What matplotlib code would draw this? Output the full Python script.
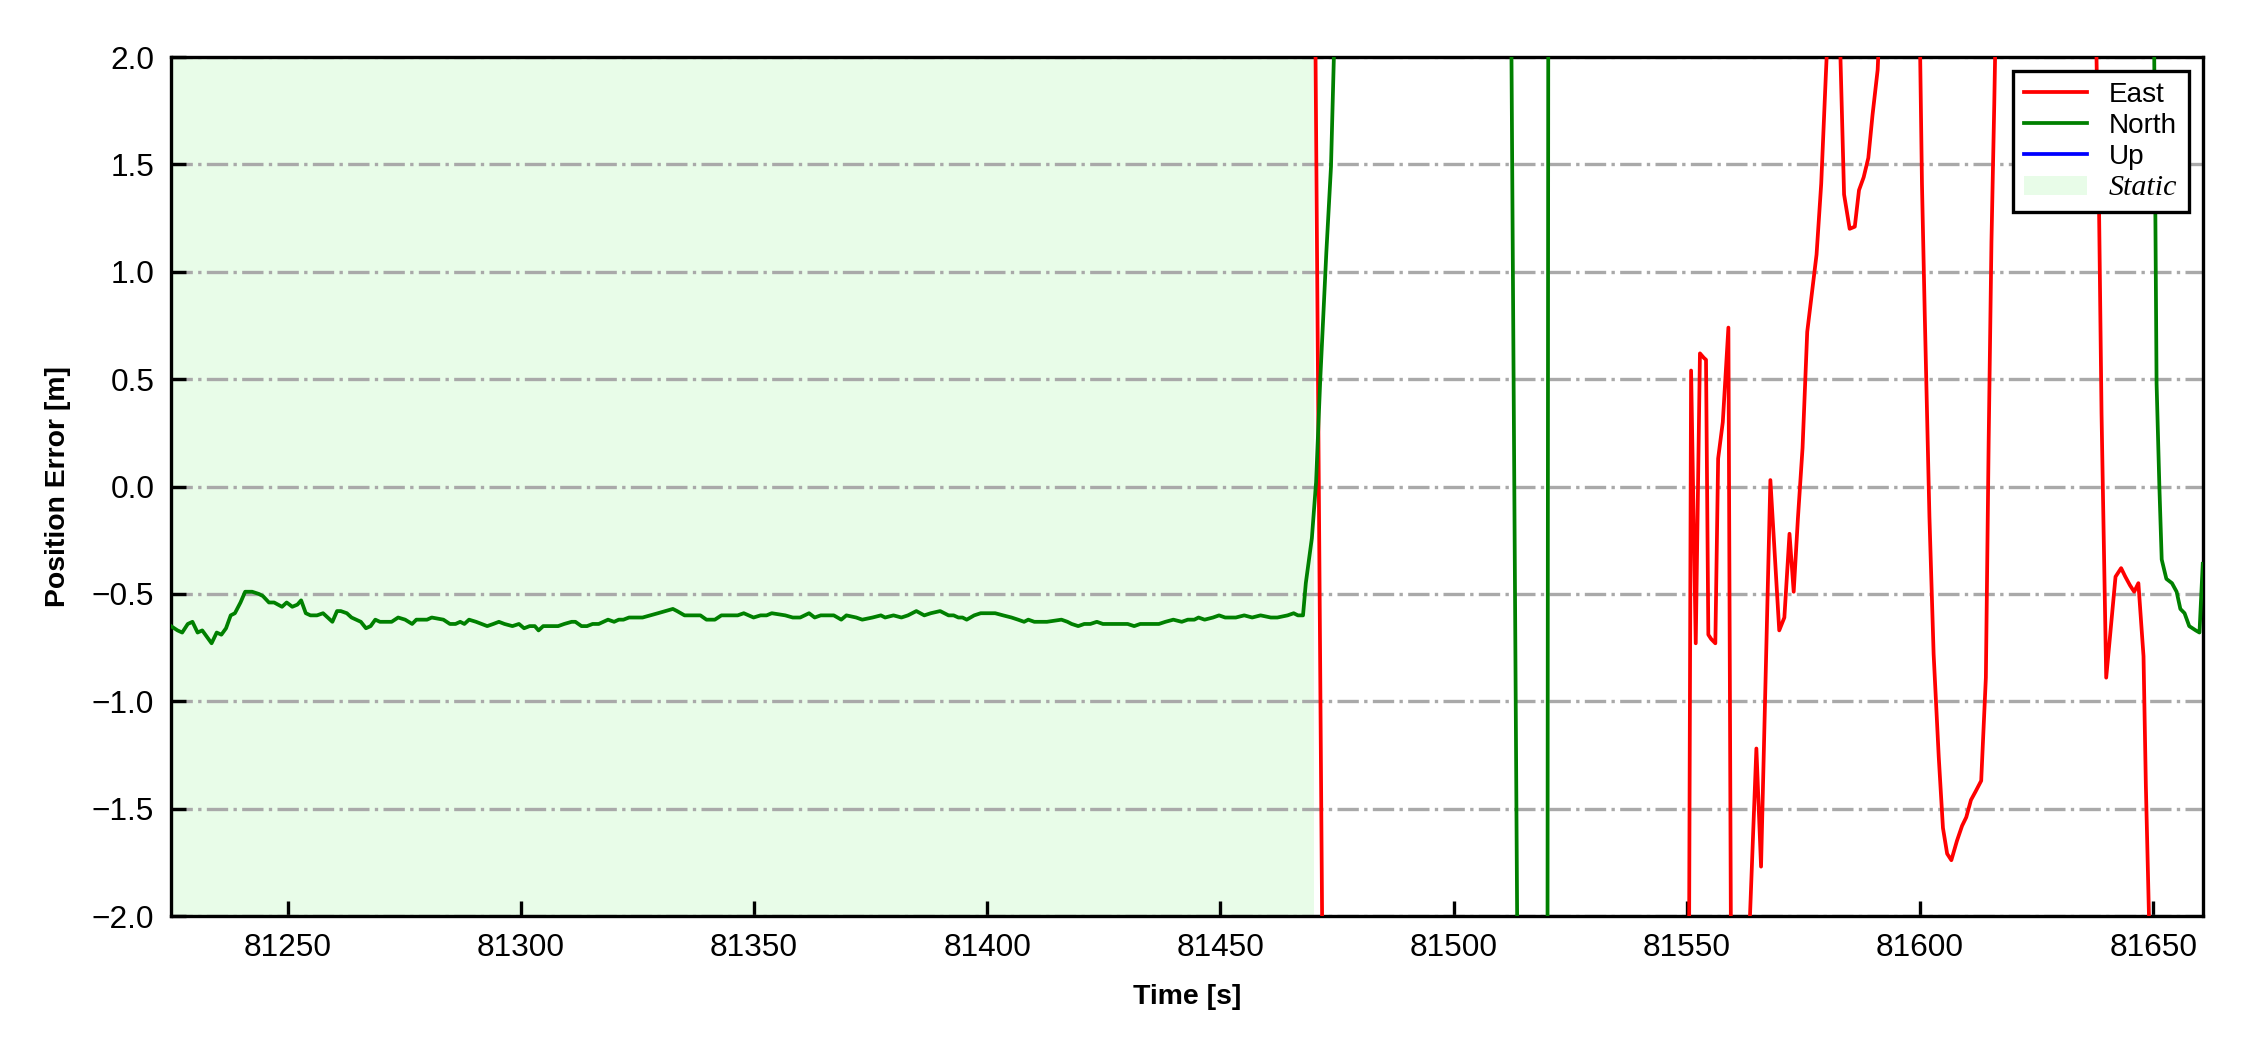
import matplotlib
matplotlib.use("Agg")
import matplotlib.pyplot as plt
import numpy as np

# ── Data ──────────────────────────────────────────────────────────────────────
# North error: static phase, jump-off, excursions and recovery near the end
north_t = [81225.0, 81226.4, 81227.4, 81228.6, 81229.6, 81230.7, 81231.7, 81232.7,
           81233.7, 81234.8, 81235.8, 81236.8, 81237.8, 81238.7, 81239.9, 81240.9,
           81242.4, 81243.8, 81244.7, 81246.0, 81247.1, 81248.8, 81249.8, 81251.0,
           81252.1, 81252.9, 81253.9, 81254.9, 81256.3, 81257.6, 81258.6, 81259.6,
           81260.6, 81261.4, 81262.7, 81263.7, 81264.7, 81265.7, 81266.8, 81267.8,
           81268.8, 81269.8, 81270.9, 81272.3, 81273.7, 81275.2, 81276.7, 81277.6,
           81278.9, 81279.9, 81280.9, 81283.4, 81284.8, 81286.0, 81287.0, 81287.9,
           81288.9, 81290.4, 81291.6, 81292.8, 81294.1, 81295.3, 81296.5, 81298.2,
           81299.6, 81300.7, 81301.9, 81303.0, 81303.8, 81304.8, 81306.4, 81308.0,
           81309.3, 81310.9, 81311.7, 81313.0, 81314.2, 81315.4, 81316.7, 81318.7,
           81320.0, 81321.0, 81322.0, 81323.2, 81326.1, 81329.4, 81332.6, 81333.5,
           81335.1, 81336.8, 81338.5, 81339.8, 81341.6, 81343.0, 81345.2, 81346.5,
           81347.8, 81349.9, 81351.4, 81352.7, 81353.8, 81356.7, 81358.3, 81359.9,
           81361.8, 81363.0, 81364.3, 81365.6, 81367.1, 81368.7, 81369.8, 81371.9,
           81373.2, 81375.4, 81377.2, 81378.1, 81379.9, 81381.6, 81383.0, 81384.8,
           81386.5, 81387.9, 81389.9, 81391.7, 81392.8, 81393.8, 81394.7, 81395.6,
           81397.2, 81398.6, 81400.3, 81401.7, 81403.4, 81405.2, 81406.6, 81407.9,
           81408.8, 81410.1, 81412.8, 81415.9, 81417.2, 81418.1, 81419.5, 81420.8,
           81422.1, 81423.5, 81424.8, 81427.5, 81429.2, 81430.1, 81431.5, 81432.8,
           81434.1, 81435.5, 81436.8, 81438.2, 81439.9, 81441.7, 81443.0, 81444.4,
           81445.3, 81446.6, 81448.4, 81449.7, 81451.0, 81453.3, 81455.1, 81456.8,
           81458.6, 81460.8, 81462.2, 81464.4, 81465.7, 81466.6, 81467.7, 81468.3,
           81469.6, 81470.5, 81471.4, 81472.7, 81473.7, 81474.8, 81480.0, 81490.0,
           81500.0, 81508.0, 81512.0, 81514.0, 81516.0, 81519.9, 81520.5, 81530.0,
           81560.0, 81600.0, 81630.0, 81649.2, 81650.0, 81650.7, 81651.3, 81651.8,
           81652.8, 81654.0, 81655.0, 81655.8, 81656.7, 81657.7, 81659.1, 81659.9,
           81660.6]
north_e = [-0.65, -0.67, -0.68, -0.64, -0.63, -0.68, -0.67, -0.70,
           -0.73, -0.68, -0.69, -0.66, -0.60, -0.59, -0.54, -0.49,
           -0.49, -0.50, -0.51, -0.54, -0.54, -0.56, -0.54, -0.56,
           -0.55, -0.53, -0.59, -0.60, -0.60, -0.59, -0.61, -0.63,
           -0.58, -0.58, -0.59, -0.61, -0.62, -0.63, -0.66, -0.65,
           -0.62, -0.63, -0.63, -0.63, -0.61, -0.62, -0.64, -0.62,
           -0.62, -0.62, -0.61, -0.62, -0.64, -0.64, -0.63, -0.64,
           -0.62, -0.63, -0.64, -0.65, -0.64, -0.63, -0.64, -0.65,
           -0.64, -0.66, -0.65, -0.65, -0.67, -0.65, -0.65, -0.65,
           -0.64, -0.63, -0.63, -0.65, -0.65, -0.64, -0.64, -0.62,
           -0.63, -0.62, -0.62, -0.61, -0.61, -0.59, -0.57, -0.58,
           -0.60, -0.60, -0.60, -0.62, -0.62, -0.60, -0.60, -0.60,
           -0.59, -0.61, -0.60, -0.60, -0.59, -0.60, -0.61, -0.61,
           -0.59, -0.61, -0.60, -0.60, -0.60, -0.62, -0.60, -0.61,
           -0.62, -0.61, -0.60, -0.61, -0.60, -0.61, -0.60, -0.58,
           -0.60, -0.59, -0.58, -0.60, -0.60, -0.61, -0.61, -0.62,
           -0.60, -0.59, -0.59, -0.59, -0.60, -0.61, -0.62, -0.63,
           -0.62, -0.63, -0.63, -0.62, -0.63, -0.64, -0.65, -0.64,
           -0.64, -0.63, -0.64, -0.64, -0.64, -0.64, -0.65, -0.64,
           -0.64, -0.64, -0.64, -0.63, -0.62, -0.63, -0.62, -0.62,
           -0.61, -0.62, -0.61, -0.60, -0.61, -0.61, -0.60, -0.61,
           -0.60, -0.61, -0.61, -0.60, -0.59, -0.60, -0.60, -0.45,
           -0.24, 0.02, 0.50, 1.09, 1.49, 2.40, 4.80, 6.50,
           5.20, 4.00, 3.30, -3.30, -6.00, -8.00, 8.00, 7.50,
           9.00, 6.00, 5.00, 3.50, 2.60, 0.48, 0.00, -0.34,
           -0.43, -0.45, -0.49, -0.57, -0.59, -0.65, -0.67, -0.68,
           -0.36]

# East error: off-scale during the static phase, then large swings
east_t = [81225.0, 81300.0, 81400.0, 81460.0, 81470.0, 81472.0, 81480.0, 81500.0,
          81530.0, 81550.0, 81550.9, 81551.9, 81552.8, 81553.6, 81554.1, 81554.6,
          81555.2, 81556.1, 81556.7, 81557.7, 81558.9, 81559.9, 81561.0, 81562.0,
          81563.0, 81564.9, 81565.9, 81567.9, 81569.8, 81570.9, 81572.0, 81572.9,
          81573.8, 81574.8, 81575.8, 81576.8, 81577.8, 81578.8, 81579.8, 81580.8,
          81581.8, 81582.8, 81583.7, 81584.9, 81586.0, 81586.9, 81587.9, 81588.9,
          81589.8, 81590.9, 81592.0, 81595.0, 81598.0, 81599.5, 81600.4, 81601.0,
          81602.0, 81602.9, 81604.0, 81604.9, 81605.8, 81606.7, 81607.9, 81609.0,
          81609.9, 81610.9, 81611.9, 81613.1, 81614.1, 81614.7, 81615.3, 81615.9,
          81616.9, 81625.0, 81632.0, 81637.0, 81638.3, 81638.9, 81639.9, 81641.9,
          81643.1, 81644.0, 81645.0, 81645.9, 81646.8, 81647.9, 81648.4, 81649.4,
          81655.0, 81660.6]
east_e = [5.50, 6.00, 4.50, 3.80, 3.10, -2.60, -4.00, -6.00,
          -5.00, -5.00, 0.54, -0.73, 0.62, 0.60, 0.59, -0.69,
          -0.71, -0.73, 0.13, 0.30, 0.74, -4.50, -4.00, -3.50,
          -2.30, -1.22, -1.77, 0.03, -0.67, -0.61, -0.22, -0.49,
          -0.15, 0.18, 0.72, 0.90, 1.08, 1.41, 1.92, 2.40,
          2.80, 2.10, 1.36, 1.20, 1.21, 1.38, 1.44, 1.53,
          1.73, 1.94, 2.50, 3.50, 3.20, 2.80, 1.41, 0.80,
          -0.14, -0.78, -1.26, -1.59, -1.71, -1.74, -1.65, -1.58,
          -1.54, -1.46, -1.42, -1.37, -0.89, 0.21, 1.14, 1.78,
          3.00, 4.50, 3.80, 3.00, 1.41, 0.34, -0.89, -0.42,
          -0.38, -0.42, -0.46, -0.49, -0.45, -0.79, -1.39, -2.30,
          -3.50, -4.20]

# Up error: never inside the plotted window
up_t = [81225.0, 81300.0, 81400.0, 81470.0, 81500.0, 81550.0, 81600.0, 81660.6]
up_e = [-3.2, -3.5, -3.4, -3.8, -5.0, -6.2, -4.8, -5.5]

static_start = 81225.0
static_end = 81470.0

# ── Plotting ──────────────────────────────────────────────────────────────────
plt.rcParams['font.family'] = ['Liberation Sans', 'DejaVu Sans']

fig = plt.figure(figsize=(7.5, 3.5), dpi=300)
ax = fig.add_axes([0.076, 0.1276, 0.903, 0.8181])

ax.axvspan(static_start, static_end, facecolor='#e8fce8', edgecolor='none',
           zorder=0, label='Static')
ax.plot(east_t, east_e, color='red', linewidth=0.9, label='East', zorder=3)
ax.plot(north_t, north_e, color='green', linewidth=0.9, label='North', zorder=3)
ax.plot(up_t, up_e, color='blue', linewidth=0.9, label='Up', zorder=3)

ax.set_xlim(north_t[0], north_t[-1])
ax.set_ylim(-2, 2)
ax.set_xticks(np.arange(81250, 81651, 50))
ax.set_yticks(np.arange(-2.0, 2.01, 0.5))

ax.grid(axis='y', linestyle='-.', linewidth=0.8, color='#a9a9a9', zorder=1)
ax.set_axisbelow(True)

ax.tick_params(direction='in', length=3.6, width=0.8, labelsize=7.6, pad=4)
for s in ax.spines.values():
    s.set_linewidth(0.8)

ax.set_xlabel('Time [s]', fontsize=6.8, fontweight='bold', labelpad=5)
ax.set_ylabel('Position Error [m]', fontsize=6.8, fontweight='bold', labelpad=5)

handles, labels = ax.get_legend_handles_labels()
order = [labels.index(n) for n in ['East', 'North', 'Up', 'Static']]
leg = ax.legend([handles[i] for i in order], [labels[i] for i in order],
                loc='upper right', fontsize=6.7, fancybox=False, framealpha=1,
                edgecolor='black', borderaxespad=0.5, borderpad=0.4,
                labelspacing=0.18, handlelength=2.25, handletextpad=0.8)
leg.get_frame().set_linewidth(0.8)
for txt in leg.get_texts():
    if txt.get_text() == 'Static':
        txt.set_family(['Liberation Serif', 'DejaVu Serif'])
        txt.set_style('italic')
        txt.set_fontsize(7.2)

fig.savefig('out.png', dpi=300)
